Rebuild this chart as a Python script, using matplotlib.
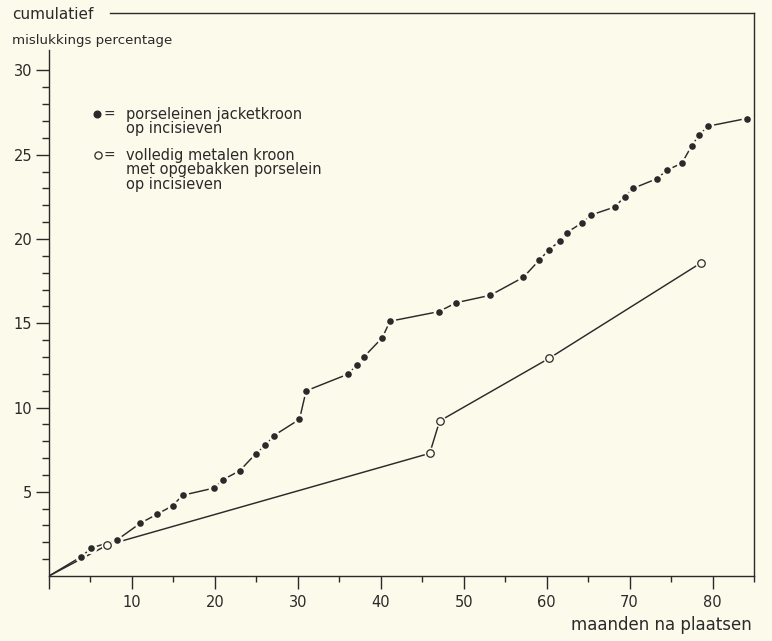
import matplotlib
matplotlib.use("Agg")
import matplotlib.pyplot as plt
from matplotlib.ticker import FixedLocator

# porseleinen jacketkroon (dichte punten), eerste punt = oorsprong
maanden_jacket = [0, 3.9, 5.1, 8.2, 11.0, 13.0, 14.9, 16.1, 19.9, 21.0, 23.0, 24.9,
                  26.1, 27.1, 30.2, 31.0, 36.0, 37.1, 38.0, 40.2, 41.1, 47.0, 49.1,
                  53.2, 57.2, 59.1, 60.3, 61.6, 62.4, 64.3, 65.4, 68.2, 69.4, 70.4,
                  73.3, 74.5, 76.3, 77.5, 78.4, 79.5, 84.1]
perc_jacket = [0, 1.15, 1.66, 2.14, 3.13, 3.66, 4.17, 4.79, 5.22, 5.72, 6.25, 7.24,
               7.76, 8.33, 9.30, 10.99, 11.97, 12.51, 13.02, 14.15, 15.12, 15.69, 16.22,
               16.66, 17.73, 18.74, 19.37, 19.88, 20.37, 20.97, 21.43, 21.9, 22.5, 23.0,
               23.58, 24.08, 24.5, 25.54, 26.19, 26.7, 27.15]

# volledig metalen kroon met opgebakken porselein (open punten)
maanden_metaal = [0, 7.0, 45.9, 47.1, 60.3, 78.6]
perc_metaal = [0, 1.83, 7.28, 9.2, 12.92, 18.58]

x_ticks = [10, 20, 30, 40, 50, 60, 70, 80]
y_ticks = [5, 10, 15, 20, 25, 30]

legenda_dicht = ["porseleinen jacketkroon", "op incisieven"]
legenda_open = ["volledig metalen kroon", "met opgebakken porselein", "op incisieven"]

papier = "#fcfaeb"
inkt = "#2a2a2a"

W, H = 772, 641
fig = plt.figure(figsize=(W / 100, H / 100), dpi=100, facecolor=papier)
# axes box in pixels: left 49, right 754, bottom 576, top 13
ax = fig.add_axes([49 / W, (H - 576) / H, (754 - 49) / W, (576 - 13) / H])
ax.set_facecolor(papier)

ax.set_xlim(0, 85)
ax.set_ylim(0, (576 - 13) / 16.85)

# lines
ax.plot(maanden_metaal, perc_metaal, color=inkt, lw=1.05, zorder=2)
ax.plot(maanden_jacket, perc_jacket, color=inkt, lw=1.05, zorder=3)
# filled dots with a paper coloured halo so the line stops short of them
ax.plot(maanden_jacket[1:], perc_jacket[1:], ls="none", marker="o", ms=6.6,
        mfc=inkt, mec=papier, mew=1.8, zorder=4)
# open circles
ax.plot(maanden_metaal[1:], perc_metaal[1:], ls="none", marker="o", ms=8.5,
        mfc=papier, mec=papier, mew=0, zorder=5)
ax.plot(maanden_metaal[1:], perc_metaal[1:], ls="none", marker="o", ms=5.4,
        mfc=papier, mec=inkt, mew=0.9, zorder=6)

# spines
for s in ax.spines.values():
    s.set_color(inkt)
    s.set_linewidth(1.0)
ax.spines["left"].set_bounds(0, (576 - 50) / 16.85)
ax.spines["top"].set_bounds((110 - 49) / 8.3, 85)

# ticks
ax.xaxis.set_major_locator(FixedLocator([0] + x_ticks))
ax.xaxis.set_minor_locator(FixedLocator([5, 15, 25, 35, 45, 55, 65, 75, 85]))
ax.set_xticklabels([""] + [str(v) for v in x_ticks])
ax.yaxis.set_major_locator(FixedLocator(y_ticks))
ax.yaxis.set_minor_locator(FixedLocator([v for v in range(1, 30) if v % 5]))
ax.set_yticklabels([str(v) for v in y_ticks])

ax.tick_params(axis="both", which="both", direction="out", color=inkt, width=1.0,
               labelcolor=inkt, labelsize=10.5, top=False, right=False)
ax.tick_params(axis="x", which="major", length=9, pad=4.5)
ax.tick_params(axis="x", which="minor", length=4.5)
ax.tick_params(axis="y", which="major", length=9.5, pad=2.5)
ax.tick_params(axis="y", which="minor", length=5)

# axis titles
fig.text(12 / W, (H - 19) / H, "cumulatief", ha="left", va="baseline",
         fontsize=11, color=inkt)
fig.text(12 / W, (H - 44) / H, "mislukkings percentage", ha="left", va="baseline",
         fontsize=9.6, color=inkt)
fig.text(751.7 / W, (H - 630) / H, "maanden na plaatsen", ha="right", va="baseline",
         fontsize=12, color=inkt)

# legend drawn by hand
tx = (125.7 - 49) / 705
eq = (103.5 - 49) / 705
ax.plot([0.0677], [0.8206], marker="o", ms=4.8, color=inkt, transform=ax.transAxes,
        clip_on=False)
ax.plot([0.0699], [0.7478], marker="o", ms=5.2, mfc=papier, mec=inkt, mew=0.9,
        transform=ax.transAxes, clip_on=False)
ax.text(eq, 0.8112, "=", transform=ax.transAxes, fontsize=10, color=inkt, va="baseline")
ax.text(eq, 0.7389, "=", transform=ax.transAxes, fontsize=10, color=inkt, va="baseline")
for tekst, yb in zip(legenda_dicht, [0.8112, 0.7863]):
    ax.text(tx, yb, tekst, transform=ax.transAxes, fontsize=10.5, color=inkt, va="baseline")
for tekst, yb in zip(legenda_open, [0.7389, 0.7140, 0.6879]):
    ax.text(tx, yb, tekst, transform=ax.transAxes, fontsize=10.5, color=inkt, va="baseline")

fig.savefig("out.png", dpi=100, facecolor=papier)
